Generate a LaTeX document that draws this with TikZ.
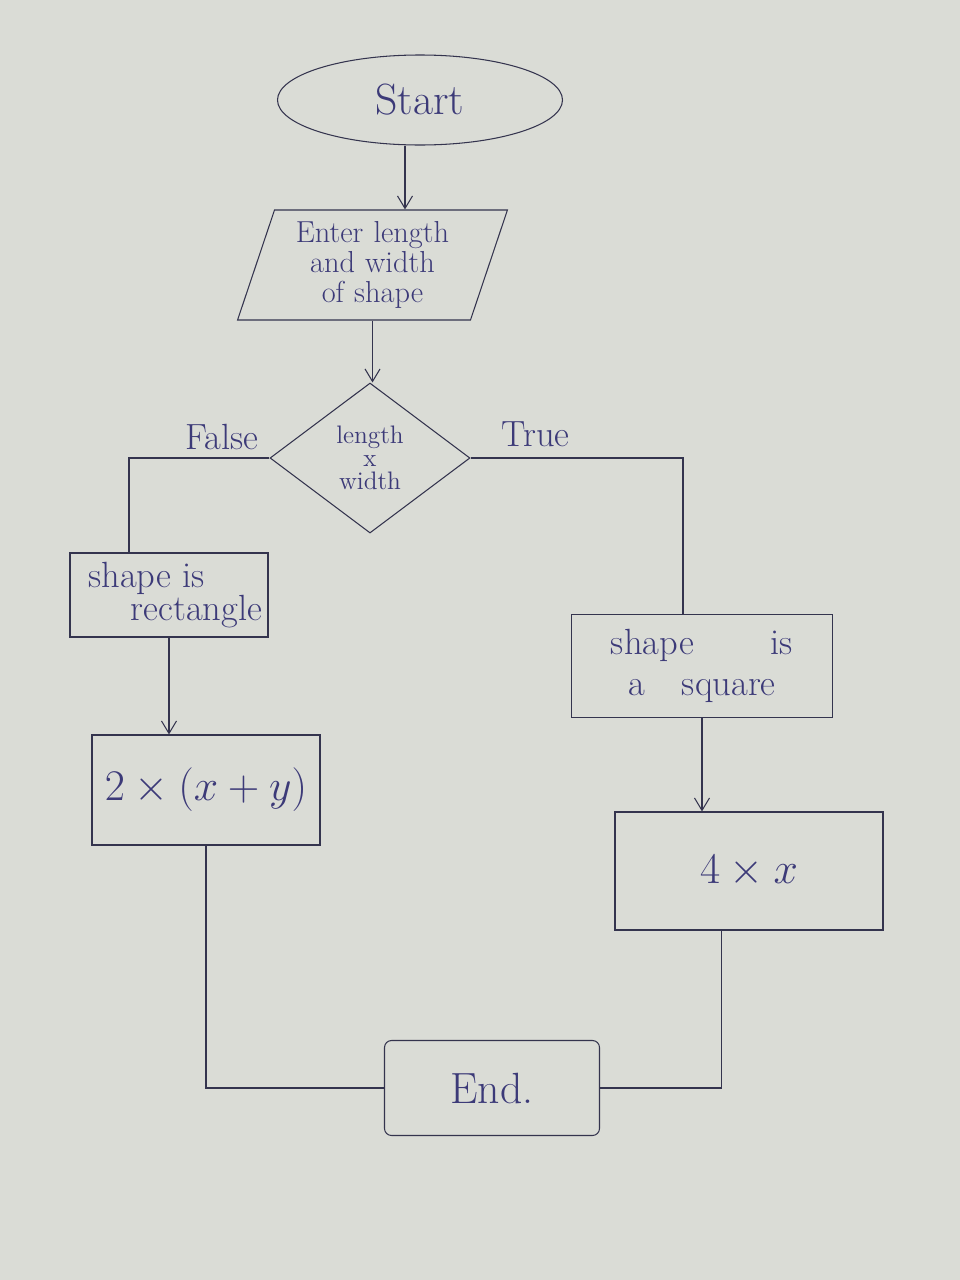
\documentclass[tikz,border=0pt]{standalone}
\usepackage{tikz}
\usetikzlibrary{positioning,shapes.geometric,arrows.meta}
\usepackage{xcolor}
\definecolor{paper}{RGB}{218,220,214}
\definecolor{ink}{RGB}{52,52,78}
\definecolor{pen}{RGB}{60,58,120}
\tikzstyle{line}=[ink,semithick]
\tikzstyle{arrow}=[ink,semithick,-{Straight Barb[length=2.5mm,width=3mm]}]
\tikzstyle{terminal}=[ellipse,draw=ink,semithick,text=pen,minimum width=5.7cm,minimum height=1.8cm]
\tikzstyle{io}=[trapezium,trapezium left angle=68,trapezium right angle=112,trapezium stretches=true,draw=ink,semithick,text=pen,minimum width=5.4cm,minimum height=2.2cm,inner sep=1pt,align=center]
\tikzstyle{decision}=[diamond,draw=ink,semithick,minimum width=4.0cm,minimum height=3.0cm,inner sep=0]
\tikzstyle{process}=[rectangle,draw=ink,semithick,text=pen,align=center]
\tikzstyle{branch}=[text=pen,font=\huge]

\begin{document}
\begin{tikzpicture}
\fill[paper] (0,0) rectangle (19.2,-25.6);
\useasboundingbox (0,0) rectangle (19.2,-25.6);

\node[terminal, font=\Huge] (start) at (8.4,-2.0) {Start};

\node[io, font=\LARGE, text width=3.8cm] (inp) at (7.45,-5.3)
    {Enter length\\[-5pt] and width\\[-5pt] of shape};

\node[decision, label={[text=pen, font=\Large, align=center]center:length\\[-5pt] x\\[-5pt] width}] (dia) at (7.4,-9.16) {};

\node[branch, above left = 0.05cm and 0.1cm of dia.west] (lfalse) {False};
\node[branch, above right = 0.1cm and 0.5cm of dia.east] (ltrue) {True};

\node[process, font=\huge, minimum width=3.96cm, minimum height=1.68cm, inner sep=1pt] (rect1) at (3.38,-11.9)
    {shape is\hspace*{0.9cm}\\[-6pt] \hspace*{1.1cm}rectangle};
\node[process, font=\huge, minimum width=5.22cm, minimum height=2.06cm] (rect2) at (14.04,-13.32)
    {shape \hspace{1.1cm} is\\[-2pt] a \hspace{0.3cm} square};

\node[process, font=\Huge, minimum width=4.56cm, minimum height=2.2cm] (box1) at (4.12,-15.8) {$2\times(x+y)$};
\node[process, font=\Huge, minimum width=5.36cm, minimum height=2.36cm] (box2) at (14.98,-17.42) {$4\times x$};

\node[process, font=\Huge, minimum width=4.3cm, minimum height=1.9cm, rounded corners=4pt] (end) at (9.84,-21.76) {End.};

% connectors
\draw[arrow] ([xshift=-0.3cm]start.south) -- ([xshift=-0.3cm]start.south |- inp.north);
\draw[arrow] (inp.south) -- (inp.south |- dia.north);
\draw[line] (dia.west) -| ([xshift=-0.8cm]rect1.north);
\draw[line] (dia.east) -| ([xshift=-0.38cm]rect2.north);
\draw[arrow] (rect1.south) -- (rect1.south |- box1.north);
\draw[arrow] (rect2.south) -- (rect2.south |- box2.north);
\draw[line] (box1.south) |- (end.west);
\draw[line] ([xshift=-0.55cm]box2.south) |- (end.east);

\end{tikzpicture}
\end{document}
